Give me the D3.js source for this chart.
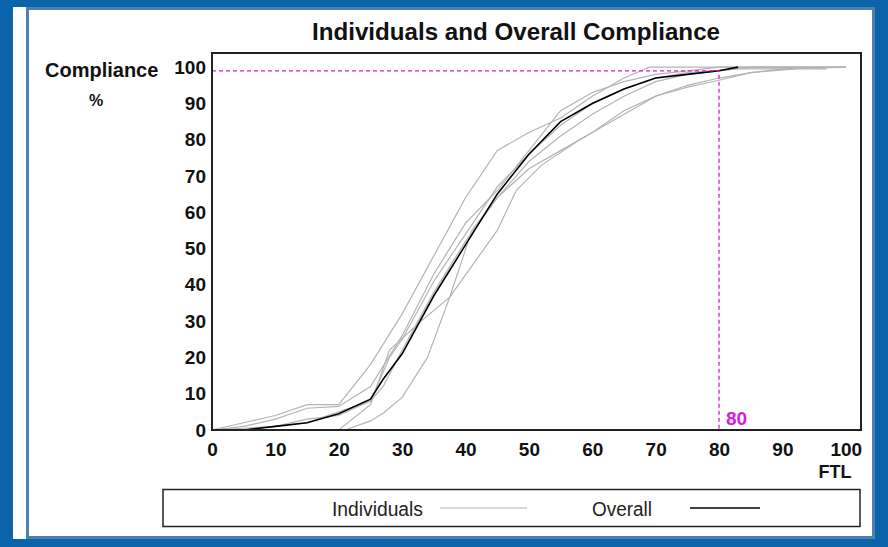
<!DOCTYPE html>
<html><head><meta charset="utf-8">
<script src="https://cdn.jsdelivr.net/npm/d3@7"></script>
<style>body{margin:0;padding:0;background:#0b64a9;}svg{display:block;}</style>
</head><body>
<svg id="c" width="888" height="547"></svg>
<script>
const xTicks = [0,10,20,30,40,50,60,70,80,90,100];
const yTicks = [0,10,20,30,40,50,60,70,80,90,100];
const overall = [[0,0],[5,0],[10,1],[15,2],[20,4.5],[25,8.5],[27,14],[30,21],[35,37],[40,51],[45,65],[50,76],[55,85],[60,90],[65,94],[70,97],[75,98],[80,99],[83,100]];
const ind1 = [[0,0],[5,2],[10,4],[15,7],[20,7],[25,18],[30,32],[35,48],[40,64],[45,77],[50,82],[55,86],[60,92],[65,97],[69,100],[100,100]];
const ind2 = [[0,0],[5,1],[10,3],[15,6],[20,6.5],[25,12],[30,26],[35,43],[40,57],[45,66],[50,77],[55,88],[60,93],[65,96],[70,98],[75,99],[80,100],[100,100]];
const ind3 = [[0,0],[10,1],[15,2],[20,5],[25,8],[28,20],[30,25],[35,41],[40,54],[45,67],[50,76],[55,84],[60,90],[65,94],[70,97],[75,98.5],[83,99.5],[97,99.5]];
const ind4 = [[0,0],[20,0],[25,7],[28,22],[33,30],[37.5,36.6],[45,55],[48,66],[52,73],[58,80],[64,86],[70,92],[75,95],[80,97],[85,98.5],[92,99.5]];
const ind5 = [[0,0],[21,0],[25,2.5],[27,4.6],[30,9],[34,20],[37.5,36.6],[41,55],[45,64],[50,72],[55,77],[60,82],[65,88],[70,92],[75,94.5],[80,96.4],[85,98.5],[90,99.5],[100,100]];
const ind6 = [[0,0],[5,0],[10,1],[15,3],[20,4],[25,8],[27,12],[30,22],[35,38],[40,52],[45,64],[50,74],[55,81],[60,87],[65,92],[70,96],[75,98],[80,99],[85,100],[100,100]];
const individuals = [ind1, ind2, ind3, ind4, ind5, ind6];
const targetFTL = 80, targetComp = 99;

const svg = d3.select("#c");
// panel
svg.append("rect").attr("x",13).attr("y",7).attr("width",862).attr("height",532).attr("fill","#fff");
svg.append("rect").attr("x",27.5).attr("y",8.5).attr("width",846).attr("height",529)
  .attr("fill","none").attr("stroke","#4f7fb2").attr("stroke-width",3);

const x = d3.scaleLinear().domain([0,102.4]).range([212,861]);
const y = d3.scaleLinear().domain([0,103.9]).range([430,53]);

svg.append("text").attr("x",312).attr("y",40).attr("font-family","Liberation Sans, Arial, sans-serif")
  .attr("font-weight","bold").attr("font-size",23).attr("textLength",408).attr("lengthAdjust","spacingAndGlyphs")
  .attr("fill","#111").text("Individuals and Overall Compliance");

svg.append("text").attr("x",45).attr("y",77).attr("font-family","Liberation Sans, Arial, sans-serif")
  .attr("font-weight","bold").attr("font-size",20).attr("fill","#111").text("Compliance");
svg.append("text").attr("x",96).attr("y",106).attr("text-anchor","middle").attr("font-family","Liberation Sans, Arial, sans-serif")
  .attr("font-weight","bold").attr("font-size",16).attr("fill","#111").text("%");

const line = d3.line().x(d=>x(d[0])).y(d=>y(d[1]));
const g = svg.append("g");
individuals.forEach(s=>{
  g.append("path").attr("d",line(s)).attr("fill","none").attr("stroke","#b4b4b4").attr("stroke-width",1.2);
});
g.append("path").attr("d",line(overall)).attr("fill","none").attr("stroke","#000").attr("stroke-width",1.6);

// target lines
svg.append("path").attr("d",line([[0,targetComp],[targetFTL,targetComp],[targetFTL,0]]))
  .attr("fill","none").attr("stroke","#d61cd6").attr("stroke-width",1.3).attr("stroke-dasharray","4,3");
svg.append("text").attr("x",x(targetFTL)+7).attr("y",425).attr("font-family","Liberation Sans, Arial, sans-serif")
  .attr("font-weight","bold").attr("font-size",19).attr("fill","#d61cd6").text(String(targetFTL));

// frame
svg.append("rect").attr("x",212).attr("y",53).attr("width",649).attr("height",377)
  .attr("fill","none").attr("stroke","#222").attr("stroke-width",2);

const xa = svg.append("g").attr("transform","translate(0,430)")
  .call(d3.axisBottom(x).tickValues(xTicks).tickSize(0).tickPadding(13));
const ya = svg.append("g").attr("transform","translate(212,0)")
  .call(d3.axisLeft(y).tickValues(yTicks).tickSize(0).tickPadding(6));
[xa,ya].forEach(a=>{
  a.select(".domain").remove();
  a.selectAll("text").attr("font-family","Liberation Sans, Arial, sans-serif").attr("font-weight","bold")
   .attr("font-size",19).attr("fill","#111");
});
svg.append("text").attr("x",835).attr("y",478).attr("text-anchor","middle").attr("font-family","Liberation Sans, Arial, sans-serif")
  .attr("font-weight","bold").attr("font-size",18).attr("fill","#111").text("FTL");

// legend
svg.append("rect").attr("x",163).attr("y",489.5).attr("width",697).attr("height",37)
  .attr("fill","#fff").attr("stroke","#222").attr("stroke-width",1.5);
svg.append("text").attr("x",332).attr("y",516).attr("font-family","Liberation Sans, Arial, sans-serif")
  .attr("font-size",20).attr("textLength",91).attr("lengthAdjust","spacingAndGlyphs").attr("fill","#222").text("Individuals");
svg.append("line").attr("x1",440).attr("x2",527).attr("y1",508).attr("y2",508).attr("stroke","#b4b4b4").attr("stroke-width",1.2);
svg.append("text").attr("x",592).attr("y",516).attr("font-family","Liberation Sans, Arial, sans-serif")
  .attr("font-size",20).attr("textLength",60).attr("lengthAdjust","spacingAndGlyphs").attr("fill","#222").text("Overall");
svg.append("line").attr("x1",690).attr("x2",760).attr("y1",508).attr("y2",508).attr("stroke","#000").attr("stroke-width",1.6);
</script>
</body></html>
